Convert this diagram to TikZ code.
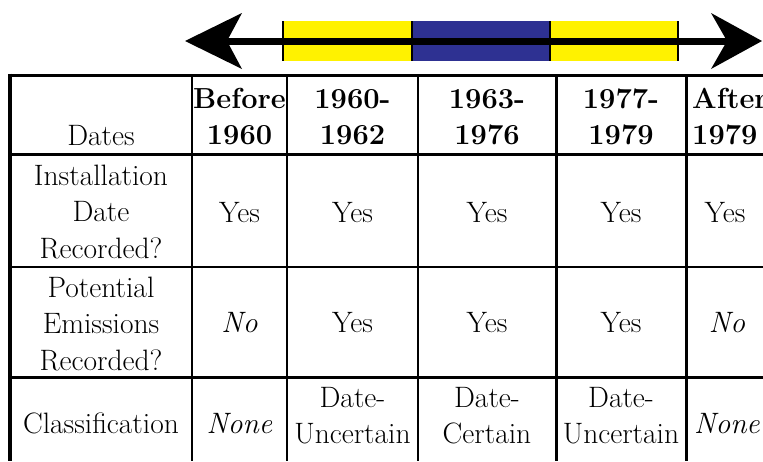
\documentclass[tikz,border=0pt]{standalone}
\usepackage{fontspec}
\definecolor{barY}{HTML}{FFF200}
\definecolor{barB}{HTML}{2E3192}
\tikzset{
  cell/.style={inner sep=0pt, align=center, anchor=north, font=\rmfamily\fontsize{29.5}{36.5}\selectfont},
  hcell/.style={inner sep=0pt, align=center, anchor=north, font=\rmfamily\fontsize{29}{36.5}\selectfont\bfseries},
  gridline/.style={line width=2.5pt},
  frameline/.style={line width=3.8pt},
  bartick/.style={line width=1.3pt},
  shaft/.style={line width=7pt},
}
\begin{document}
\begin{tikzpicture}[x=1pt,y=-1pt]
\useasboundingbox (0,0) rectangle (763,461);
% timeline bars
\fill[barY] (283,21) rectangle (412,61);
\fill[barB] (412,21) rectangle (550,61);
\fill[barY] (550,21) rectangle (678,61);
\foreach \x in {283,412,550,678} \draw[bartick] (\x,21) -- (\x,61);
% double arrow
\coordinate (tl) at (185,41);
\coordinate (tr) at (762,41);
\draw[shaft] ([xshift=40pt]tl) -- ([xshift=-35pt]tr);
\fill (tl) -- ++(57,-28) -- ++(-15,28) -- ++(15,28) -- cycle;
\fill (tr) -- ++(-51,-28) -- ++(16,28) -- ++(-16,28) -- cycle;
% table frame
\draw[frameline] (8,75.5) -- (763,75.5);
\draw[frameline] (10,73.6) -- (10,461);
\foreach \y in {154.5,267,377.5} \draw[gridline] (10,\y) -- (763,\y);
\foreach \x in {192,287,418,556.5,686.5} \draw[gridline] (\x,75) -- (\x,461);
% header row
\node[cell] (h0) at (101,119.45) {\strut Dates};
\node[hcell] (h1) at (239.5,82.45) {\strut Before\\\strut 1960};
\node[hcell] (h2) at (352.5,82.45) {\strut 1960-\\\strut 1962};
\node[hcell] (h3) at (487,82.45) {\strut 1963-\\\strut 1976};
\node[hcell] (h4) at (621,82.45) {\strut 1977-\\\strut 1979};
\node[hcell, align=left, anchor=north west] (h5) at (692,82.45) {\strut After\\\strut 1979};
% row 1
\node[cell] (a0) at (101,159.45) {\strut Installation\\\strut Date\\\strut Recorded?};
\node[cell] (a1) at (239.5,196.45) {\strut Yes};
\node[cell] (a2) at (352.5,196.45) {\strut Yes};
\node[cell] (a3) at (487,196.45) {\strut Yes};
\node[cell] (a4) at (621,196.45) {\strut Yes};
\node[cell] (a5) at (725,196.45) {\strut Yes};
% row 2
\node[cell] (b0) at (101,271.45) {\strut Potential\\\strut Emissions\\\strut Recorded?};
\node[cell] (b1) at (239.5,306.45) {\strut\textit{No}};
\node[cell] (b2) at (352.5,306.45) {\strut Yes};
\node[cell] (b3) at (487,306.45) {\strut Yes};
\node[cell] (b4) at (621,306.45) {\strut Yes};
\node[cell] (b5) at (727,306.45) {\strut\textit{No}};
% row 3
\node[cell] (c0) at (101,407.45) {\strut Classification};
\node[cell] (c1) at (239.5,407.45) {\strut\textit{None}};
\node[cell] (c2) at (352.5,381.45) {\strut Date-\\\strut Uncertain};
\node[cell] (c3) at (487,381.45) {\strut Date-\\\strut Certain};
\node[cell] (c4) at (621,381.45) {\strut Date-\\\strut Uncertain};
\node[cell] (c5) at (727,407.45) {\strut\textit{None}};
\end{tikzpicture}
\end{document}
